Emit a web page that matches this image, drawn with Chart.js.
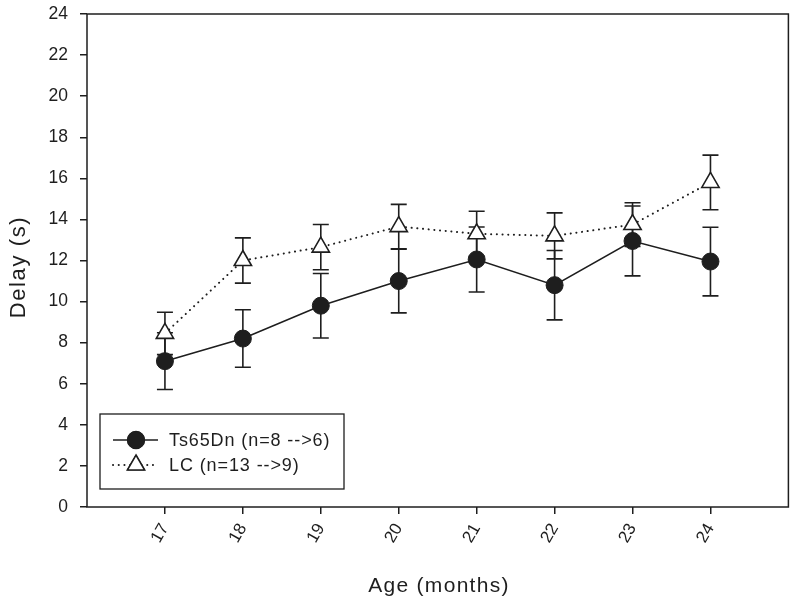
<!DOCTYPE html>
<html>
<head>
<meta charset="utf-8">
<script src="https://cdn.jsdelivr.net/npm/chart.js@4/dist/chart.umd.min.js"></script>
<style>
  html, body { margin: 0; padding: 0; background: #fff; }
  #wrap { width: 800px; height: 605px; }
</style>
</head>
<body>
<div id="wrap"><canvas id="chart" width="800" height="605"></canvas></div>
<script>
const ages = [17, 18, 19, 20, 21, 22, 23, 24];
const yTicks = [0, 2, 4, 6, 8, 10, 12, 14, 16, 18, 20, 22, 24];

// Ts65Dn: mean and SEM
const tsMean = [7.1, 8.2, 9.8, 11.0, 12.05, 10.8, 12.95, 11.95];
const tsErr = [1.38, 1.4, 1.57, 1.55, 1.58, 1.69, 1.7, 1.67];

// LC: mean and SEM
const lcMean = [8.45, 12.0, 12.65, 13.65, 13.3, 13.2, 13.75, 15.8];
const lcErr = [1.03, 1.1, 1.1, 1.08, 1.1, 1.12, 1.06, 1.33];

const tsLabel = 'Ts65Dn (n=8 -->6)';
const lcLabel = 'LC (n=13 -->9)';
const xTitle = 'Age (months)';
const yTitle = 'Delay (s)';

const INK = '#1e1e1e';
const FONT = '"Liberation Sans", Arial, sans-serif';

function toPoints(means) {
    return ages.map((a, i) => ({ x: a, y: means[i] }));
}

function noPadding(scale) {
    scale.paddingTop = 0;
    scale.paddingBottom = 0;
    scale.paddingLeft = 0;
    scale.paddingRight = 0;
}

// error bars, frame, titles and legend
const extras = {
    id: 'extras',
    beforeDatasetsDraw(chart) {
        const ctx = chart.ctx;
        const xs = chart.scales.x, ys = chart.scales.y;
        const sets = [[lcMean, lcErr], [tsMean, tsErr]];
        ctx.save();
        ctx.strokeStyle = INK;
        ctx.lineWidth = 1.6;
        sets.forEach(function (s) {
            ages.forEach(function (a, i) {
                const px = xs.getPixelForValue(a);
                const top = ys.getPixelForValue(s[0][i] + s[1][i]);
                const bot = ys.getPixelForValue(s[0][i] - s[1][i]);
                ctx.beginPath();
                ctx.moveTo(px, top); ctx.lineTo(px, bot);
                ctx.moveTo(px - 8, top); ctx.lineTo(px + 8, top);
                ctx.moveTo(px - 8, bot); ctx.lineTo(px + 8, bot);
                ctx.stroke();
            });
        });
        ctx.restore();
    },
    afterDraw(chart) {
        const ctx = chart.ctx;
        const a = chart.chartArea;
        ctx.save();
        ctx.strokeStyle = INK;
        ctx.lineWidth = 1.5;
        ctx.strokeRect(a.left, a.top, a.right - a.left, a.bottom - a.top);

        // axis titles (spaced out like the original)
        ctx.fillStyle = INK;
        ctx.textAlign = 'center';
        ctx.textBaseline = 'alphabetic';
        ctx.font = '21px ' + FONT;
        ctx.letterSpacing = '1.3px';
        ctx.fillText(xTitle, 439, 592);
        ctx.save();
        ctx.font = '22px ' + FONT;
        ctx.letterSpacing = '1.6px';
        ctx.translate(25, 267);
        ctx.rotate(-Math.PI / 2);
        ctx.fillText(yTitle, 0, 0);
        ctx.restore();

        // legend box
        ctx.lineWidth = 1.3;
        ctx.fillStyle = '#fff';
        ctx.fillRect(100, 414, 244, 75);
        ctx.strokeRect(100, 414, 244, 75);

        const rows = [
            { y: 440, label: tsLabel, ds: chart.data.datasets[0] },
            { y: 465, label: lcLabel, ds: chart.data.datasets[1] }
        ];
        rows.forEach(function (r) {
            ctx.save();
            ctx.strokeStyle = INK;
            ctx.lineWidth = r.ds.borderWidth;
            ctx.setLineDash(r.ds.borderDash || []);
            ctx.lineCap = r.ds.borderCapStyle || 'butt';
            ctx.beginPath();
            ctx.moveTo(113, r.y); ctx.lineTo(158, r.y);
            ctx.stroke();
            ctx.restore();
            Chart.helpers.drawPoint(ctx, {
                pointStyle: r.ds.pointStyle,
                radius: r.ds.pointRadius,
                borderWidth: r.ds.pointBorderWidth,
                rotation: 0
            }, 136, r.y);
            ctx.fillStyle = r.ds.pointBackgroundColor;
            ctx.strokeStyle = INK;
            ctx.lineWidth = r.ds.pointBorderWidth;
            ctx.fill();
            ctx.stroke();
            ctx.fillStyle = INK;
            ctx.font = '18px ' + FONT;
            ctx.letterSpacing = '0.9px';
            ctx.textBaseline = 'middle';
            ctx.textAlign = 'left';
            ctx.fillText(r.label, 169, r.y + 1);
        });
        ctx.restore();
    }
};

new Chart(document.getElementById('chart'), {
    type: 'line',
    data: {
        datasets: [{
            label: tsLabel,
            data: toPoints(tsMean),
            borderColor: INK,
            borderWidth: 1.6,
            pointStyle: 'circle',
            pointRadius: 8.5,
            pointBorderWidth: 1,
            pointBackgroundColor: INK,
            pointBorderColor: INK,
            order: 0
        }, {
            label: lcLabel,
            data: toPoints(lcMean),
            borderColor: INK,
            borderWidth: 2,
            borderDash: [0.1, 5.6],
            borderCapStyle: 'round',
            pointStyle: 'triangle',
            pointRadius: 10,
            pointBorderWidth: 1.6,
            pointBackgroundColor: '#fff',
            pointBorderColor: INK,
            order: 1
        }]
    },
    options: {
        responsive: false,
        animation: false,
        layout: { padding: { top: 14, right: 9, left: 0, bottom: 0 } },
        plugins: {
            legend: { display: false },
            tooltip: { enabled: false }
        },
        scales: {
            x: {
                type: 'linear',
                min: 16,
                max: 25,
                afterBuildTicks(scale) {
                    scale.ticks = ages.map(v => ({ value: v }));
                },
                afterFit(scale) { scale.height = 98; noPadding(scale); },
                grid: { drawOnChartArea: false, drawTicks: true, tickLength: 7, color: INK, lineWidth: 1.5 },
                border: { display: false },
                ticks: {
                    color: INK,
                    font: { family: FONT, size: 17 },
                    minRotation: 60,
                    maxRotation: 60,
                    padding: 6,
                    callback: v => String(v)
                },
                title: { display: false }
            },
            y: {
                min: 0,
                max: 24,
                afterBuildTicks(scale) {
                    scale.ticks = yTicks.map(v => ({ value: v }));
                },
                afterFit(scale) { scale.width = 87; noPadding(scale); },
                grid: { drawOnChartArea: false, drawTicks: true, tickLength: 7, color: INK, lineWidth: 1.5 },
                border: { display: false },
                ticks: {
                    color: INK,
                    font: { family: FONT, size: 17.5 },
                    padding: 12
                },
                title: { display: false }
            }
        }
    },
    plugins: [extras]
});
</script>
</body>
</html>
